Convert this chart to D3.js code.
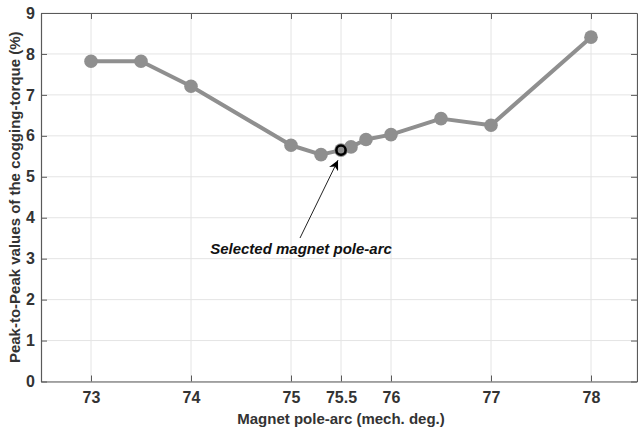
<!DOCTYPE html>
<html>
<head>
<meta charset="utf-8">
<script src="https://cdn.jsdelivr.net/npm/d3@7"></script>
<style>
  html, body { margin: 0; padding: 0; background: #fff; }
  svg { display: block; }
  text { font-family: "Liberation Sans", Arial, sans-serif; }
</style>
</head>
<body>
<svg id="chart" width="638" height="432"></svg>
<script>
// Pole-arc sweep and the resulting peak-to-peak cogging torque
const poleArc = [73, 73.5, 74, 75, 75.3, 75.5, 75.6, 75.75, 76, 76.5, 77, 78];
const cogging = [7.82, 7.82, 7.21, 5.77, 5.54, 5.65, 5.73, 5.91, 6.03, 6.42, 6.26, 8.41];
const selectedArc = 75.5;
const selectedValue = 5.65;
const xTicks = [73, 74, 75, 75.5, 76, 77, 78];
const yTicks = [0, 1, 2, 3, 4, 5, 6, 7, 8, 9];

const svg = d3.select("#chart");
const plotLeft = 41, plotRight = 637, plotTop = 13, plotBottom = 381.5;

const x = d3.scaleLinear().domain([72.5, 78.46]).range([plotLeft, plotRight]);
const y = d3.scaleLinear().domain([0, 9]).range([plotBottom, plotTop]);

// grid
const grid = svg.append("g").attr("stroke", "#e4e4e4").attr("stroke-width", 1);
grid.selectAll("line.v").data(xTicks).join("line")
  .attr("class", "v")
  .attr("x1", d => x(d)).attr("x2", d => x(d))
  .attr("y1", plotTop).attr("y2", plotBottom);
grid.selectAll("line.h").data(yTicks).join("line")
  .attr("class", "h")
  .attr("y1", d => y(d)).attr("y2", d => y(d))
  .attr("x1", plotLeft).attr("x2", plotRight);

// axes with inward ticks on all four sides
const axisColor = "#5a5a5a";
const tickLen = 6;
const fmt = d => d3.format("")(d);

const gB = svg.append("g").attr("transform", `translate(0,${plotBottom})`)
  .call(d3.axisBottom(x).tickValues(xTicks).tickSizeInner(-tickLen).tickSizeOuter(0).tickPadding(10).tickFormat(fmt));
const gT = svg.append("g").attr("transform", `translate(0,${plotTop})`)
  .call(d3.axisTop(x).tickValues(xTicks).tickSizeInner(-tickLen).tickSizeOuter(0).tickFormat(""));
const gL = svg.append("g").attr("transform", `translate(${plotLeft},0)`)
  .call(d3.axisLeft(y).tickValues(yTicks).tickSizeInner(-tickLen).tickSizeOuter(0).tickPadding(6).tickFormat(fmt));
const gR = svg.append("g").attr("transform", `translate(${plotRight},0)`)
  .call(d3.axisRight(y).tickValues(yTicks).tickSizeInner(-tickLen).tickSizeOuter(0).tickFormat(""));

[gB, gT, gL, gR].forEach(g => {
  g.select(".domain").attr("stroke", axisColor).attr("stroke-width", 1.2);
  g.selectAll(".tick line").attr("stroke", axisColor).attr("stroke-width", 1);
  g.selectAll(".tick text")
    .attr("fill", "#333")
    .style("font-family", "'Liberation Sans', Arial, sans-serif")
    .style("font-size", "16px")
    .style("font-weight", "bold");
});

// series
const lineColor = "#8f8f8f";
const pts = poleArc.map((v, i) => [v, cogging[i]]);
svg.append("path")
  .datum(pts)
  .attr("fill", "none")
  .attr("stroke", lineColor)
  .attr("stroke-width", 4)
  .attr("stroke-linejoin", "round")
  .attr("d", d3.line().x(d => x(d[0])).y(d => y(d[1])));

svg.selectAll("circle.pt").data(pts).join("circle")
  .attr("class", "pt")
  .attr("cx", d => x(d[0])).attr("cy", d => y(d[1]))
  .attr("r", 6.8)
  .attr("fill", lineColor);

// highlighted design point
svg.append("circle")
  .attr("cx", x(selectedArc)).attr("cy", y(selectedValue))
  .attr("r", 4.6)
  .attr("fill", "none")
  .attr("stroke", "#000")
  .attr("stroke-width", 2.6);

// annotation arrow
svg.append("defs").append("marker")
  .attr("id", "head")
  .attr("viewBox", "0 0 10 10")
  .attr("refX", 10).attr("refY", 5)
  .attr("markerWidth", 10).attr("markerHeight", 10)
  .attr("markerUnits", "userSpaceOnUse")
  .attr("orient", "auto")
  .append("path").attr("d", "M0,0 L10,5 L0,10 L3,5 Z").attr("fill", "#000");

svg.append("line")
  .attr("x1", 300).attr("y1", 238)
  .attr("x2", x(selectedArc) - 3).attr("y2", y(selectedValue) + 10)
  .attr("stroke", "#222").attr("stroke-width", 1)
  .attr("marker-end", "url(#head)");

svg.append("text")
  .attr("x", 301).attr("y", 254)
  .attr("text-anchor", "middle")
  .attr("fill", "#111")
  .style("font-size", "15px")
  .style("font-weight", "bold")
  .style("font-style", "italic")
  .text("Selected magnet pole-arc");

// axis titles
svg.append("text")
  .attr("x", (plotLeft + plotRight) / 2 + 2).attr("y", 424)
  .attr("text-anchor", "middle")
  .attr("fill", "#333")
  .style("font-size", "15px")
  .style("font-weight", "bold")
  .text("Magnet pole-arc (mech. deg.)");

svg.append("text")
  .attr("transform", `translate(20,${(plotTop + plotBottom) / 2}) rotate(-90)`)
  .attr("text-anchor", "middle")
  .attr("fill", "#333")
  .style("font-size", "15px")
  .style("font-weight", "bold")
  .text("Peak-to-Peak values of the cogging-torque (%)");
</script>
</body>
</html>
